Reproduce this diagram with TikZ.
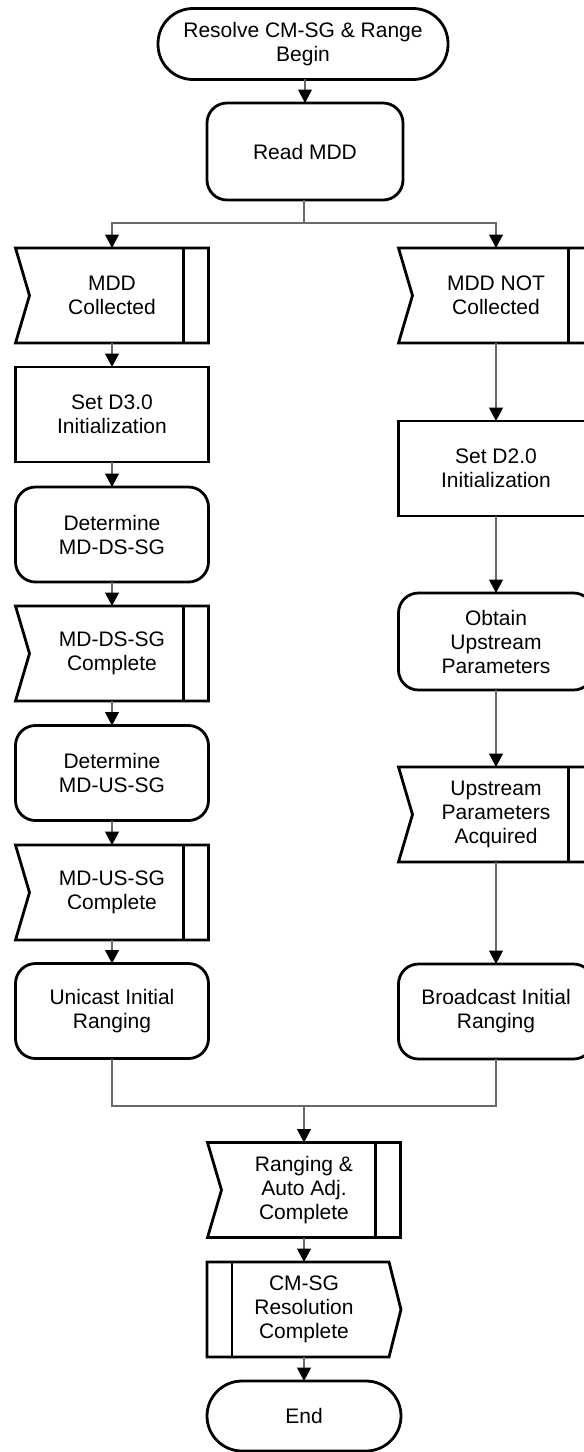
\documentclass[tikz,border=0pt]{standalone}
\usepackage{fontspec}
\setmainfont{Liberation Sans}
\usetikzlibrary{arrows.meta,calc}
\definecolor{connc}{RGB}{105,105,105}
\begin{document}
\begin{tikzpicture}[x=1pt,y=-1pt,
  base/.style={inner sep=0pt, outer sep=0pt, align=center,
    font=\fontsize{21}{24}\selectfont, line width=2.8pt},
  proc/.style={base, draw=black, minimum width=193pt, minimum height=95pt},
  rproc/.style={proc, rounded corners=20pt},
  term/.style={base, draw=black, rounded corners=35pt, minimum height=71pt},
  recv/.style={base, minimum width=193pt, minimum height=95pt},
  edge/.style={line width=2.8pt, draw=black},
  plain/.style={draw=connc, line width=1.1pt},
  conn/.style={plain, -{Triangle[length=13.5pt,width=14pt,color=black]}}
]
\useasboundingbox (0,0) rectangle (584,1452);
\fill[white] (0,0) rectangle (584,1452);
\clip (0,0) rectangle (584,1452);

% top
\node[term, minimum width=290pt] (start) at (303,44) {Resolve CM-SG \& Range\\Begin};
\node[rproc, minimum width=196pt, minimum height=97pt] (read) at (305,151.5) {Read MDD};

% left column
\node[recv] (mddc) at (112,295.5) {MDD\\Collected};
\node[proc] (d30) at (112,414.5) {Set D3.0\\Initialization};
\node[rproc] (dsd) at (112,534.5) {Determine\\MD-DS-SG};
\node[recv] (dsc) at (112,653.5) {MD-DS-SG\\Complete};
\node[rproc] (usd) at (112,773) {Determine\\MD-US-SG};
\node[recv] (usc) at (112,892.5) {MD-US-SG\\Complete};
\node[rproc] (uni) at (112,1011) {Unicast Initial\\Ranging};

% right column
\node[recv, minimum width=195pt] (nmdd) at (496,295.5) {MDD NOT\\Collected};
\node[proc, minimum width=195pt] (d20) at (496,468.5) {Set D2.0\\Initialization};
\node[rproc, minimum width=195pt, minimum height=97pt] (obt) at (496,641.5) {Obtain\\Upstream\\Parameters};
\node[recv, minimum width=195pt] (acq) at (496,814.5) {Upstream\\Parameters\\Acquired};
\node[rproc, minimum width=195pt] (bro) at (496,1011.5) {Broadcast Initial\\Ranging};

% bottom
\node[recv] (rng) at (304,1190) {Ranging \&\\Auto Adj.\\Complete};
\node[recv, minimum width=194pt] (cms) at (304,1309.5) {CM-SG\\Resolution\\Complete};
\node[term, minimum width=194pt, minimum height=70pt] (end) at (304,1416) {End};

% receive-signal outlines
\foreach \n in {mddc,dsc,usc,nmdd,acq,rng}{
  \draw[edge] (\n.north west) -- (\n.north east) -- (\n.south east)
    -- (\n.south west) -- ([xshift=14pt]\n.west) -- cycle;
  \draw[edge] ([xshift=-25pt]\n.north east) -- ([xshift=-25pt]\n.south east);
}
% send-signal outline
\draw[edge] (cms.north west) -- ([xshift=-12pt]cms.north east) -- (cms.east)
  -- ([xshift=-12pt]cms.south east) -- (cms.south west) -- cycle;
\draw[edge] ([xshift=25pt]cms.north west) -- ([xshift=25pt]cms.south west);

% connectors
\coordinate (split) at (304,223);
\coordinate (merge) at (304,1106);
\draw[conn] (start) -- (start.south -| read.north) -- (read.north);
\draw[plain] (read.south -| split) -- (split);
\draw[conn] (split) -| (mddc.north);
\draw[conn] (split) -| (nmdd.north);

\draw[conn] (mddc) -- (d30);
\draw[conn] (d30) -- (dsd);
\draw[conn] (dsd) -- (dsc);
\draw[conn] (dsc) -- (usd);
\draw[conn] (usd) -- (usc);
\draw[conn] (usc) -- (uni);

\draw[conn] (nmdd) -- (d20);
\draw[conn] (d20) -- (obt);
\draw[conn] (obt) -- (acq);
\draw[conn] (acq) -- (bro);

\draw[plain] (uni.south) |- (merge);
\draw[plain] (bro.south) |- (merge);
\draw[conn] (merge) -- (rng.north);
\draw[conn] (rng) -- (cms);
\draw[conn] (cms) -- (end);
\end{tikzpicture}
\end{document}
